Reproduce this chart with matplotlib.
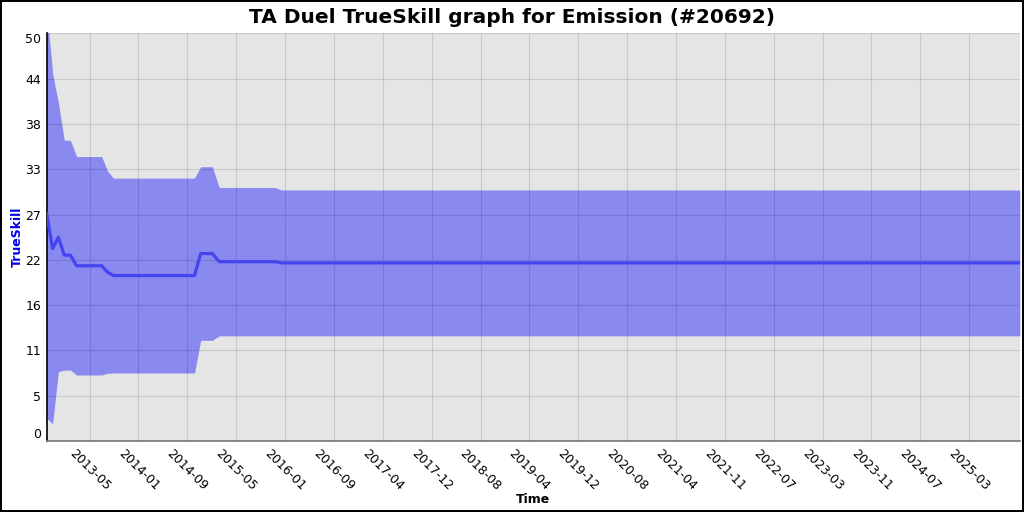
import matplotlib
matplotlib.use('Agg')
import matplotlib.pyplot as plt
import matplotlib.dates as mdates
import numpy as np
import pandas as pd

# rating history
dates = ['2012-10-27', '2012-11-25', '2012-12-23', '2013-01-21', '2013-02-20',
         '2013-03-22', '2013-07-23', '2013-08-21', '2013-09-19', '2014-10-20',
         '2014-11-19', '2015-01-15', '2015-02-18', '2015-11-18', '2015-12-20',
         '2025-11-08']
mean = [27.9, 23.6, 25.0, 22.8, 22.8,
        21.5, 21.5, 20.7, 20.3, 20.3,
        23.0, 23.0, 22.0, 22.0, 21.85,
        21.85]
spread = [25.1, 21.5, 16.5, 14.1, 14.1,
          13.4, 13.4, 12.4, 11.95, 11.95,
          10.65, 10.65, 9.1, 9.1, 8.95,
          8.95]

x = pd.to_datetime(dates)
mean = np.array(mean)
spread = np.array(spread)

fig = plt.figure(figsize=(10.24, 5.12), dpi=100, linewidth=1.5, edgecolor='black')
ax = fig.add_axes([0.0456, 0.1387, 0.9504, 0.7959])
ax.set_facecolor('#e5e5e5')

ax.fill_between(x, mean - spread, mean + spread, color='#0000ff', alpha=0.4,
                linewidth=0, zorder=1)
ax.plot(x, mean, color='#4444f0', linewidth=2.3, zorder=3)

ax.set_xlim(x[0], x[-1])
ax.set_ylim(0, 50)

# y ticks
yt = np.linspace(0, 50, 10)
ax.set_yticks(yt)
ax.set_yticklabels([str(int(v)) for v in yt], fontsize=9)
ylabs = ax.get_yticklabels()
ylabs[0].set_va('bottom')
ylabs[-1].set_va('top')

# x ticks
xt = pd.date_range('2013-05-25', periods=19, freq='239D')
ax.set_xticks(xt)
ax.xaxis.set_major_formatter(mdates.DateFormatter('%Y-%m'))
plt.setp(ax.get_xticklabels(), rotation=-45, ha='center', fontsize=9)

ax.tick_params(length=0, pad=4)
ax.grid(True, color='black', alpha=0.12, linewidth=0.8, zorder=2)
ax.set_axisbelow(False)

for s in ['top', 'right']:
    ax.spines[s].set_visible(False)
ax.spines['left'].set_color('black')
ax.spines['left'].set_linewidth(1.2)
ax.spines['bottom'].set_color('#777777')
ax.spines['bottom'].set_linewidth(1.2)

ax.set_ylabel('TrueSkill', color='#0000ee', fontweight='bold', fontsize=9, labelpad=1)
ax.set_xlabel('Time', fontweight='bold', fontsize=9, labelpad=0)

fig.suptitle('TA Duel TrueSkill graph for Emission (#20692)', fontsize=14.5,
             fontweight='bold', y=0.985)

fig.savefig('out.png', dpi=100)
